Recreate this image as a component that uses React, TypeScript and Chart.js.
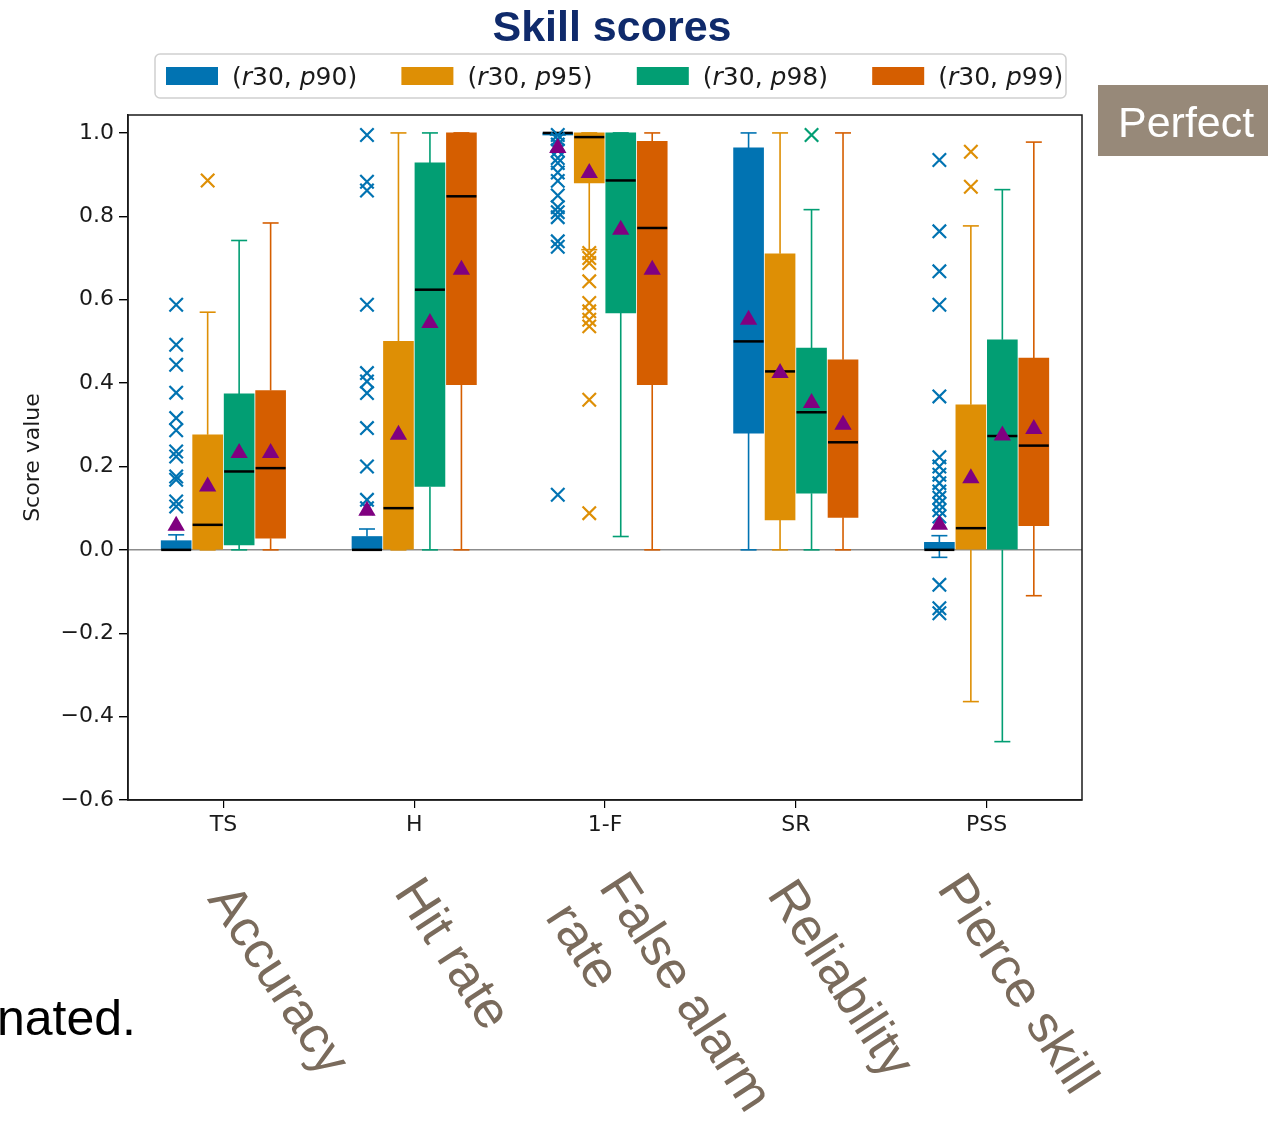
import React, { useEffect, useRef } from 'react';
import { Chart, registerables } from 'chart.js';

Chart.register(...registerables);

// ---------------- data ----------------
const CATEGORIES = ['TS', 'H', '1-F', 'SR', 'PSS'];
const SERIES = ['(r30, p90)', '(r30, p95)', '(r30, p98)', '(r30, p99)'];
const COLORS = ['#0173b2', '#de8f05', '#029e73', '#d55e00'];
const Y_TICKS = [-0.6, -0.4, -0.2, 0, 0.2, 0.4, 0.6, 0.8, 1.0];

// (r30, p90)
const Q1_P90 = [0, 0, 0.995, 0.28, 0];
const Q3_P90 = [0.022, 0.032, 1.0, 0.964, 0.018];
const MED_P90 = [0, 0, 1.0, 0.5, 0];
const LO_P90 = [0, 0, 0.995, 0, -0.018];
const HI_P90 = [0.036, 0.05, 1.0, 1.0, 0.034];
const MEAN_P90 = [0.058, 0.094, 0.964, 0.552, 0.06];
const OUT_P90 = [
  [0.588, 0.492, 0.444, 0.377, 0.316, 0.287, 0.236, 0.224, 0.176, 0.168, 0.116, 0.104],
  [0.995, 0.883, 0.862, 0.588, 0.424, 0.404, 0.376, 0.292, 0.2, 0.12, 0.1],
  [0.995, 0.985, 0.972, 0.958, 0.94, 0.928, 0.905, 0.885, 0.85, 0.822, 0.81, 0.798, 0.74, 0.727, 0.132],
  [],
  [0.935, 0.764, 0.668, 0.588, 0.368, 0.222, 0.2, 0.18, 0.16, 0.14, 0.125, 0.11, 0.095, 0.08, -0.084, -0.14, -0.152],
];

// (r30, p95)
const Q1_P95 = [0, 0, 0.88, 0.072, 0];
const Q3_P95 = [0.276, 0.5, 1.0, 0.71, 0.348];
const MED_P95 = [0.06, 0.1, 0.99, 0.428, 0.052];
const LO_P95 = [0, 0, 0.72, 0, -0.364];
const HI_P95 = [0.57, 1.0, 1.0, 1.0, 0.777];
const MEAN_P95 = [0.152, 0.276, 0.904, 0.424, 0.172];
const OUT_P95 = [
  [0.886],
  [],
  [0.712, 0.7, 0.688, 0.644, 0.592, 0.572, 0.552, 0.536, 0.36, 0.088],
  [],
  [0.955, 0.871],
];

// (r30, p98)
const Q1_P98 = [0.012, 0.152, 0.568, 0.136, 0];
const Q3_P98 = [0.374, 0.928, 1.0, 0.484, 0.504];
const MED_P98 = [0.188, 0.624, 0.886, 0.33, 0.273];
const LO_P98 = [0, 0, 0.032, 0, -0.46];
const HI_P98 = [0.742, 1.0, 1.0, 0.816, 0.864];
const MEAN_P98 = [0.232, 0.544, 0.768, 0.352, 0.274];
const OUT_P98 = [[], [], [], [0.995], []];

// (r30, p99)
const Q1_P99 = [0.028, 0.396, 0.396, 0.078, 0.058];
const Q3_P99 = [0.382, 1.0, 0.98, 0.456, 0.46];
const MED_P99 = [0.196, 0.848, 0.772, 0.258, 0.25];
const LO_P99 = [0, 0, 0, 0, -0.11];
const HI_P99 = [0.784, 1.0, 1.0, 1.0, 0.978];
const MEAN_P99 = [0.232, 0.672, 0.672, 0.3, 0.29];
const OUT_P99 = [[], [], [], [], []];

const TITLE = 'Skill scores';
const Y_TITLE = 'Score value';
const PERFECT = 'Perfect';
const FRAGMENT = 'nated.';
const DESCRIPTIONS = ['Accuracy', 'Hit rate', 'False alarm', 'rate', 'Reliability', 'Pierce skill'];

const Q1 = [Q1_P90, Q1_P95, Q1_P98, Q1_P99];
const Q3 = [Q3_P90, Q3_P95, Q3_P98, Q3_P99];
const MED = [MED_P90, MED_P95, MED_P98, MED_P99];
const LO = [LO_P90, LO_P95, LO_P98, LO_P99];
const HI = [HI_P90, HI_P95, HI_P98, HI_P99];
const MEAN = [MEAN_P90, MEAN_P95, MEAN_P98, MEAN_P99];
const OUT = [OUT_P90, OUT_P95, OUT_P98, OUT_P99];

// ---------------- layout helpers ----------------
const GROUP = 0.66;
const SLOT = GROUP / SERIES.length;
const xpos = (c: number, s: number) => c + (s - (SERIES.length - 1) / 2) * SLOT;

const fmtTick = (v: number) => {
  if (Math.abs(v) < 1e-9) return '0.0';
  return (v < 0 ? '\u2212' : '') + Math.abs(v).toFixed(1);
};

const drawMath = (ctx: CanvasRenderingContext2D, text: string, x: number, y: number, size: number) => {
  let cx = x;
  for (const ch of text) {
    const italic = /[a-z]/i.test(ch);
    ctx.font = `${italic ? 'italic ' : ''}${size}px "DejaVu Sans"`;
    ctx.fillText(ch, cx, y);
    cx += ctx.measureText(ch).width;
  }
};

const decorPlugin = {
  id: 'decor',
  afterDraw(chart: any) {
    const ctx: CanvasRenderingContext2D = chart.ctx;
    const a = chart.chartArea;
    ctx.save();
    // frame
    ctx.strokeStyle = '#1a1a1a';
    ctx.lineWidth = 1.5;
    ctx.strokeRect(a.left, a.top, a.right - a.left, a.bottom - a.top);

    // title
    ctx.fillStyle = '#0f2a6b';
    ctx.font = 'bold 43px "Liberation Sans", Arial, sans-serif';
    ctx.textAlign = 'center';
    ctx.textBaseline = 'alphabetic';
    ctx.fillText(TITLE, 612, 41);

    // legend
    ctx.beginPath();
    (ctx as any).roundRect(155, 54, 911, 44, 5);
    ctx.fillStyle = 'rgba(255,255,255,0.9)';
    ctx.fill();
    ctx.strokeStyle = '#d0d0d0';
    ctx.lineWidth = 1.5;
    ctx.stroke();
    ctx.textAlign = 'left';
    SERIES.forEach((s, i) => {
      const x0 = 166 + i * 235.4;
      ctx.fillStyle = COLORS[i];
      ctx.fillRect(x0, 67, 52, 18);
      ctx.fillStyle = '#1a1a1a';
      drawMath(ctx, s, x0 + 66, 85, 25);
    });

    // "Perfect" box
    ctx.fillStyle = '#978979';
    ctx.fillRect(1098, 85, 170, 71);
    ctx.fillStyle = '#ffffff';
    ctx.font = '43px "Liberation Sans", Arial, sans-serif';
    ctx.textAlign = 'left';
    ctx.fillText(PERFECT, 1118, 137);

    // fragment text
    ctx.fillStyle = '#000000';
    ctx.font = '50px "Liberation Sans", Arial, sans-serif';
    ctx.textAlign = 'right';
    ctx.fillText(FRAGMENT, 136, 1035);

    // rotated descriptions
    const centers = [
      [277, 981],
      [451, 955],
      [684, 993],
      [581, 947],
      [839, 980],
      [1016, 985],
    ];
    ctx.fillStyle = '#7a6b5c';
    ctx.font = '52px "Liberation Sans", Arial, sans-serif';
    ctx.textAlign = 'center';
    ctx.textBaseline = 'middle';
    DESCRIPTIONS.forEach((t, i) => {
      ctx.save();
      ctx.translate(centers[i][0], centers[i][1]);
      ctx.rotate((57 * Math.PI) / 180);
      ctx.fillText(t, 0, 0);
      ctx.restore();
    });
    ctx.restore();
  },
};

export default function App() {
  const ref = useRef<HTMLCanvasElement | null>(null);

  useEffect(() => {
    document.body.style.margin = '0';
    document.documentElement.style.overflow = 'hidden';
    const canvas = ref.current;
    if (!canvas) return;

    const datasets: any[] = [];

    // means (top-most)
    datasets.push({
      type: 'scatter',
      label: 'mean',
      xAxisID: 'x2',
      yAxisID: 'y',
      data: SERIES.flatMap((_, i) => CATEGORIES.map((__, c) => ({ x: xpos(c, i), y: MEAN[i][c] }))),
      pointStyle: 'triangle',
      pointRadius: 10,
      backgroundColor: '#800080',
      borderColor: '#800080',
      borderWidth: 0,
      order: 1,
    });

    // outliers
    SERIES.forEach((s, i) => {
      datasets.push({
        type: 'scatter',
        label: s + ' outliers',
        xAxisID: 'x2',
        yAxisID: 'y',
        data: OUT[i].flatMap((vals, c) => vals.map((v) => ({ x: xpos(c, i), y: v }))),
        pointStyle: 'crossRot',
        pointRadius: 9.5,
        borderColor: COLORS[i],
        backgroundColor: 'rgba(0,0,0,0)',
        borderWidth: 2.2,
        order: 2,
      });
    });

    // medians
    datasets.push({
      type: 'scatter',
      label: 'median',
      xAxisID: 'x2',
      yAxisID: 'y',
      data: SERIES.flatMap((_, i) => CATEGORIES.map((__, c) => ({ x: xpos(c, i), y: MED[i][c] }))),
      pointStyle: 'line',
      pointRadius: 15,
      borderColor: '#000000',
      borderWidth: 2.5,
      order: 3,
    });

    // boxes (floating bars q1..q3)
    SERIES.forEach((s, i) => {
      datasets.push({
        type: 'bar',
        label: s,
        xAxisID: 'x2',
        yAxisID: 'y',
        data: CATEGORIES.map((_, c) => ({ x: xpos(c, i), y: [Q1[i][c], Q3[i][c]] })),
        backgroundColor: COLORS[i],
        borderWidth: 0,
        grouped: false,
        barThickness: 30,
        order: 4,
      });
    });

    // caps
    SERIES.forEach((s, i) => {
      datasets.push({
        type: 'scatter',
        label: s + ' caps',
        xAxisID: 'x2',
        yAxisID: 'y',
        data: CATEGORIES.flatMap((_, c) => [
          { x: xpos(c, i), y: LO[i][c] },
          { x: xpos(c, i), y: HI[i][c] },
        ]),
        pointStyle: 'line',
        pointRadius: 8,
        borderColor: COLORS[i],
        borderWidth: 1.6,
        order: 5,
      });
    });

    // whiskers
    SERIES.forEach((s, i) => {
      datasets.push({
        type: 'line',
        label: s + ' whiskers',
        xAxisID: 'x2',
        yAxisID: 'y',
        data: CATEGORIES.flatMap((_, c) => {
          const x = xpos(c, i);
          return [
            { x, y: LO[i][c] },
            { x, y: Q1[i][c] },
            { x, y: null },
            { x, y: Q3[i][c] },
            { x, y: HI[i][c] },
            { x, y: null },
          ];
        }),
        borderColor: COLORS[i],
        borderWidth: 1.6,
        pointRadius: 0,
        fill: false,
        spanGaps: false,
        tension: 0,
        order: 6,
      });
    });

    const tickFont = { family: '"DejaVu Sans", sans-serif', size: 22 };

    const chart = new Chart(canvas, {
      type: 'bar',
      data: { labels: CATEGORIES, datasets },
      options: {
        responsive: false,
        animation: false,
        events: [],
        layout: { padding: { left: 0, right: 186, top: 115, bottom: 284 } },
        plugins: { legend: { display: false }, tooltip: { enabled: false } },
        scales: {
          x: {
            type: 'category',
            position: 'bottom',
            offset: true,
            grid: {
              offset: false,
              drawOnChartArea: false,
              drawTicks: true,
              tickLength: 8,
              color: '#000',
              tickColor: '#000',
              lineWidth: 1.2,
            },
            border: { display: true, color: '#1a1a1a', width: 1.5 },
            ticks: { font: tickFont, color: '#1a1a1a', padding: 4, maxRotation: 0, autoSkip: false },
            afterFit: (s: any) => {
              s.height = 40;
            },
          },
          x2: { type: 'linear', display: false, offset: false, min: -0.5, max: 4.5 },
          y: {
            type: 'linear',
            min: -0.6,
            max: 1.043,
            afterBuildTicks: (s: any) => {
              s.ticks = Y_TICKS.map((v) => ({ value: v }));
            },
            ticks: {
              font: tickFont,
              color: '#1a1a1a',
              padding: 5,
              callback: (v: any) => fmtTick(Number(v)),
            },
            grid: {
              color: (c: any) => (c.tick && Math.abs(c.tick.value) < 1e-9 ? '#8c8c8c' : 'rgba(0,0,0,0)'),
              tickColor: '#000',
              drawTicks: true,
              tickLength: 9,
              lineWidth: 1.4,
            },
            border: { display: true, color: '#1a1a1a', width: 1.5 },
            title: {
              display: true,
              text: Y_TITLE,
              font: { family: '"DejaVu Sans", sans-serif', size: 22 },
              color: '#1a1a1a',
              padding: { top: 20, bottom: 0 },
            },
            afterFit: (s: any) => {
              s.width = 128;
            },
          },
        },
      } as any,
      plugins: [decorPlugin],
    });

    return () => chart.destroy();
  }, []);

  return (
    <div style={{ position: 'absolute', left: 0, top: 0, width: 1268, height: 1124, background: '#fff' }}>
      <canvas ref={ref} width={1268} height={1124} style={{ width: 1268, height: 1124, display: 'block' }} />
    </div>
  );
}
